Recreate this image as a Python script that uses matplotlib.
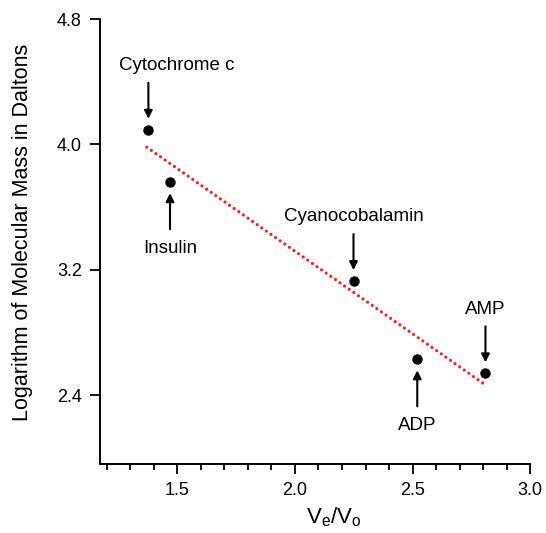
import matplotlib
matplotlib.use("Agg")
import matplotlib.pyplot as plt
from matplotlib.ticker import MultipleLocator

plt.rcParams.update({
    "font.family": ["Liberation Sans", "DejaVu Sans"],
    "mathtext.fontset": "custom",
    "mathtext.rm": "Liberation Sans",
    "mathtext.it": "Liberation Sans",
})

# ---------------------------------------------------------------- data
names = ["Cytochrome c", "Insulin", "Cyanocobalamin", "ADP", "AMP"]
ve_vo = [1.377, 1.469, 2.249, 2.52, 2.81]
log_mass = [4.094, 3.759, 3.128, 2.628, 2.539]

fit_x = [1.37, 2.80]
fit_y = [3.983, 2.475]

# label above the point -> arrow points down
above = [True, False, True, False, True]

fig = plt.figure(figsize=(5.46, 5.33), dpi=100)
ax = fig.add_axes([0.183, 0.1295, 0.788, 0.8345])

ax.plot(fit_x, fit_y, color="#ff1a1a", lw=2.3,
        ls=(0, (0.01, 1.75)), dash_capstyle="round")
ax.plot(ve_vo, log_mass, "o", color="black", ms=6.5, zorder=3)

for n, x, y, up in zip(names, ve_vo, log_mass, above):
    if up:
        tip, tail, ty = y + 0.07, y + 0.30, y + 0.41
    else:
        tip, tail, ty = y - 0.07, y - 0.30, y - 0.42
    ax.annotate("", xy=(x, tip), xytext=(x, tail),
                arrowprops=dict(arrowstyle="-|>", lw=1.5, color="black",
                                mutation_scale=12, shrinkA=0, shrinkB=0))
    ax.text(x + (0.12 if n == "Cytochrome c" else 0.0), ty, n,
            fontsize=13.5, ha="center", va="center")

ax.set_xlim(1.171, 3.0)
ax.set_ylim(1.96, 4.8)
ax.xaxis.set_major_locator(MultipleLocator(0.5))
ax.xaxis.set_minor_locator(MultipleLocator(0.1))
ax.set_yticks([2.4, 3.2, 4.0, 4.8])
ax.set_xticks([1.5, 2.0, 2.5, 3.0])

for s in ["top", "right"]:
    ax.spines[s].set_visible(False)
for s in ["left", "bottom"]:
    ax.spines[s].set_linewidth(1.4)

ax.tick_params(axis="both", which="major", length=7, width=1.3,
               labelsize=13, direction="out", pad=6)
ax.tick_params(axis="x", which="minor", length=4.5, width=1.3, direction="out")

ax.set_xlabel("V$_\\mathrm{e}$/V$_\\mathrm{o}$", fontsize=16)
ax.set_ylabel("Logarithm of Molecular Mass in Daltons", fontsize=15.5)
ax.xaxis.set_label_coords(0.544, -0.093)
ax.yaxis.set_label_coords(-0.156, 0.52)

fig.savefig("out.png", dpi=100, facecolor="white")
